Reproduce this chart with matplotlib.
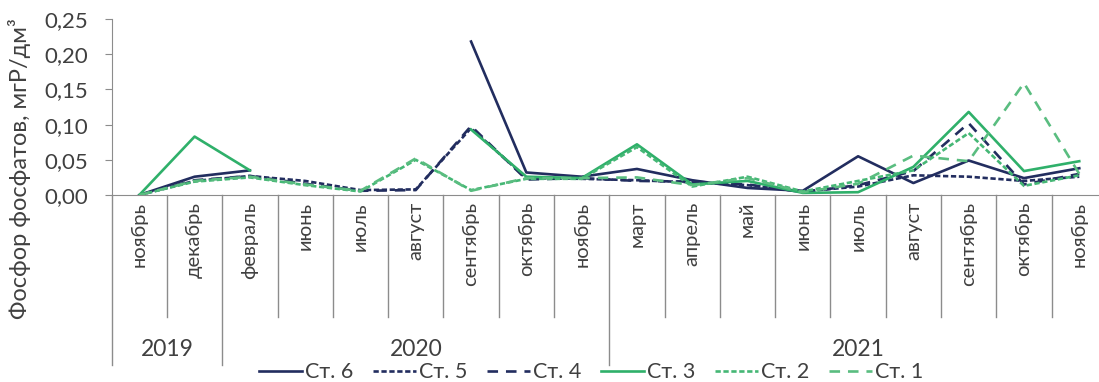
import matplotlib.pyplot as plt
import matplotlib.transforms as mtransforms
import numpy as np

plt.rcParams['font.family'] = ['Lato', 'DejaVu Sans']

# months along the x axis, grouped by year
months = ['ноябрь', 'декабрь',
          'февраль', 'июнь', 'июль', 'август', 'сентябрь', 'октябрь', 'ноябрь',
          'март', 'апрель', 'май', 'июнь', 'июль', 'август', 'сентябрь', 'октябрь', 'ноябрь']
years = ['2019', '2020', '2021']
year_len = [2, 7, 9]

nan = np.nan
# phosphate phosphorus, mgP/dm3, per station
st6 = [0.0, 0.026, 0.035, nan, nan, nan, 0.218, 0.032, 0.026, 0.037, 0.021, 0.010, 0.006, 0.055, 0.017, 0.049, 0.024, 0.038]
st5 = [0.0, 0.020, 0.027, 0.020, 0.007, 0.008, 0.095, 0.024, 0.023, 0.021, 0.018, 0.014, 0.005, 0.012, 0.028, 0.026, 0.020, 0.026]
st4 = [0.0, 0.021, 0.027, 0.016, 0.006, 0.007, 0.098, 0.022, 0.024, 0.020, 0.019, 0.015, 0.004, 0.014, 0.034, 0.102, 0.015, 0.030]
st3 = [0.0, 0.083, 0.035, nan, nan, nan, 0.093, 0.026, 0.024, 0.072, 0.015, 0.020, 0.003, 0.004, 0.040, 0.118, 0.034, 0.048]
st2 = [0.0, 0.019, 0.025, 0.014, 0.005, 0.050, 0.007, 0.023, 0.023, 0.068, 0.012, 0.026, 0.005, 0.020, 0.035, 0.088, 0.013, 0.028]
st1 = [0.0, 0.020, 0.026, 0.015, 0.006, 0.052, 0.006, 0.024, 0.024, 0.025, 0.014, 0.024, 0.004, 0.016, 0.056, 0.048, 0.159, 0.030]

navy = '#222d5f'
green = '#2fb06a'
green2 = '#45b775'
green3 = '#5abd80'
grey = '#8c8c8c'
txt = '#404040'

fig = plt.figure(figsize=(10.99, 3.82), dpi=100)
ax = fig.add_axes([0.1016, 0.4895, 0.9056, 0.4608])

x = np.arange(len(months))
ax.plot(x, st6, color=navy, lw=1.9, label='Ст. 6', zorder=3)
ax.plot(x, st5, color=navy, lw=1.9, dashes=(2, 1), label='Ст. 5', zorder=4)
ax.plot(x, st4, color=navy, lw=1.9, dashes=(4, 3), label='Ст. 4', zorder=5)
ax.plot(x, st3, color=green, lw=1.9, label='Ст. 3', zorder=6)
ax.plot(x, st2, color=green2, lw=1.9, dashes=(2, 1), label='Ст. 2', zorder=7)
ax.plot(x, st1, color=green3, lw=1.9, dashes=(4, 3), label='Ст. 1', zorder=8)

ax.set_xlim(-0.5, len(months) - 0.5)
ax.set_ylim(0, 0.25)
ax.set_yticks(np.arange(0, 0.26, 0.05))
ax.set_yticklabels([f'{v:.2f}'.replace('.', ',') for v in np.arange(0, 0.26, 0.05)])
ax.set_xticks(x)
ax.set_xticklabels(months, rotation=90, va='top', ha='center')
ax.tick_params(axis='x', length=0, pad=5, labelsize=14.5, labelcolor=txt)
ax.tick_params(axis='y', length=5, color=grey, labelsize=16, labelcolor=txt, pad=12)

for s in ['top', 'right']:
    ax.spines[s].set_visible(False)
ax.spines['left'].set_color(grey)
ax.spines['bottom'].set_color(grey)
ax.spines['left'].set_bounds(0, 0.25)

ax.set_ylabel('Фосфор фосфатов, мгР/дм³', fontsize=17, color=txt)
ax.yaxis.set_label_coords(-0.081, 0.153)

# category separators below the axis: short ones for months, long ones for years
tr = mtransforms.blended_transform_factory(ax.transData, ax.transAxes)
edges = np.cumsum(year_len)[:-1] - 0.5
for b in np.arange(0.5, len(months) - 1, 1.0):
    y_end = -0.966 if b in edges else -0.693
    ax.plot([b, b], [0, y_end], color=grey, lw=1, transform=tr, clip_on=False)
ax.plot([-0.5, -0.5], [0, -0.966], color=grey, lw=1, transform=tr, clip_on=False)

start = -0.5
for yr, n in zip(years, year_len):
    ax.text(start + n / 2, -0.88, yr, transform=tr, ha='center', va='center',
            fontsize=16.5, color=txt)
    start += n

fig.legend(loc='center', bbox_to_anchor=(0.538, 0.026), ncol=6, frameon=False,
           fontsize=15.5, handlelength=2.0, handletextpad=0.15, columnspacing=0.9,
           labelcolor=txt, borderpad=0)

fig.savefig('out.png', dpi=100)
